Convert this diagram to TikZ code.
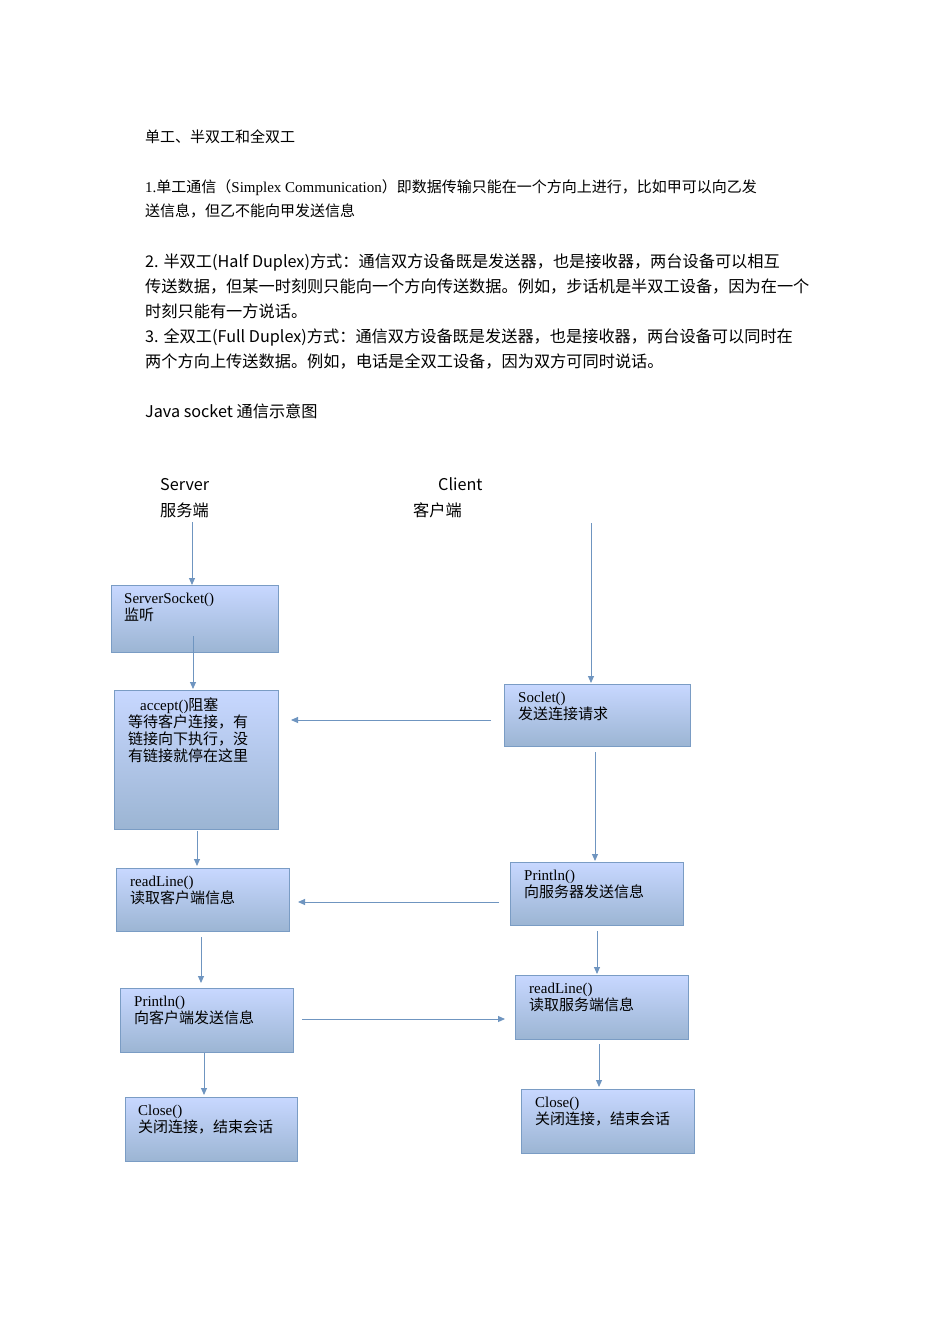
\documentclass[tikz,border=0pt]{standalone}
\usepackage{fontspec}
\setmainfont{Liberation Serif}
\newfontfamily\cjk{Noto Sans CJK SC}
\newfontfamily\dv{DejaVu Sans}
\usetikzlibrary{arrows.meta}
\definecolor{bd}{HTML}{7A9CC4}
\definecolor{ln}{HTML}{6F95C0}
\tikzset{
 box/.style={draw=bd,line width=1.4pt,top color=blue!8!cyan!8!white!85!blue,bottom color=bd!75,anchor=north west,inner sep=0pt},
 arr/.style={draw=ln,line width=1pt,-{Triangle[length=7pt,width=6pt]}},
 txt/.style={anchor=base west,inner sep=0pt,font=\fontsize{15}{18}\selectfont},
 ptxt/.style={anchor=base west,inner sep=0pt,font=\cjk\fontsize{16.2}{18}\selectfont},
 bt/.style={anchor=north west,inner sep=0pt,align=left,font=\fontsize{15}{17}\selectfont}
}
\newcommand{\bx}[5]{\node[box,minimum width=#3-#1,minimum height=#4-#2] (#5) at (#1,#2) {};}
\begin{document}
\begin{tikzpicture}[x=1pt,y=-1pt]
\useasboundingbox[fill=white] (0,0) rectangle (950,1344);
\node[txt] (t0) at (145,142) {\cjk 单工、半双工和全双工};
\node[txt] (t1) at (145,192) {1.{\cjk 单工通信（}Simplex Communication{\cjk ）即数据传输只能在一个方向上进行，比如甲可以向乙发}};
\node[txt] (t2) at (145,216) {\cjk 送信息，但乙不能向甲发送信息};
\node[ptxt] (p1) at (145,267) {2. 半双工(Half Duplex)方式：通信双方设备既是发送器，也是接收器，两台设备可以相互};
\node[ptxt] (p2) at (145,292) {传送数据，但某一时刻则只能向一个方向传送数据。例如，步话机是半双工设备，因为在一个};
\node[ptxt] (p3) at (145,317) {时刻只能有一方说话。};
\node[ptxt] (p4) at (145,342) {3. 全双工(Full Duplex)方式：通信双方设备既是发送器，也是接收器，两台设备可以同时在};
\node[ptxt] (p5) at (145,367) {两个方向上传送数据。例如，电话是全双工设备，因为双方可同时说话。};
\node[ptxt] (p6) at (145,417) {Java socket 通信示意图};
\node[ptxt] (srv) at (160,490) {Server};
\node[ptxt] (srvc) at (160,516) {服务端};
\node[ptxt] (cli) at (438,490) {Client};
\node[ptxt] (clic) at (413,516) {客户端};
% boxes
\bx{111}{585}{278}{652}{b1}
\bx{114}{690}{278}{829}{b2}
\bx{116}{868}{289}{931}{b3}
\bx{120}{988}{293}{1052}{b4}
\bx{125}{1097}{297}{1161}{b5}
\bx{504}{684}{690}{746}{c1}
\bx{510}{862}{683}{925}{c2}
\bx{515}{975}{688}{1039}{c3}
\bx{521}{1089}{694}{1153}{c4}
\node[bt] at (124,593) {ServerSocket()\\{\cjk 监听}};
\node[bt] at (128,698) {\hspace{12pt}accept(){\cjk 阻塞}\\{\cjk 等待客户连接，有}\\{\cjk 链接向下执行，没}\\{\cjk 有链接就停在这里}};
\node[bt] at (130,876) {readLine()\\{\cjk 读取客户端信息}};
\node[bt] at (134,996) {Println()\\{\cjk 向客户端发送信息}};
\node[bt] at (138,1105) {Close()\\{\cjk 关闭连接，结束会话}};
\node[bt] at (518,692) {Soclet()\\{\cjk 发送连接请求}};
\node[bt] at (524,870) {Println()\\{\cjk 向服务器发送信息}};
\node[bt] at (529,983) {readLine()\\{\cjk 读取服务端信息}};
\node[bt] at (535,1097) {Close()\\{\cjk 关闭连接，结束会话}};
% connectors
\coordinate (s0) at (192,522); \coordinate (s0e) at (192,585);
\draw[arr] (s0) -- (s0e);
\coordinate (a1) at (193,636); \coordinate (a1e) at (193,689);
\draw[arr] (a1) -- (a1e);
\coordinate (a2) at (197,831); \coordinate (a2e) at (197,866);
\draw[arr] (a2) -- (a2e);
\coordinate (a3) at (201,937); \coordinate (a3e) at (201,983);
\draw[arr] (a3) -- (a3e);
\coordinate (a4) at (204,1053); \coordinate (a4e) at (204,1095);
\draw[arr] (a4) -- (a4e);
\coordinate (c0) at (591,523); \coordinate (c0e) at (591,683);
\draw[arr] (c0) -- (c0e);
\coordinate (d1) at (595,752); \coordinate (d1e) at (595,861);
\draw[arr] (d1) -- (d1e);
\coordinate (d2) at (597,931); \coordinate (d2e) at (597,974);
\draw[arr] (d2) -- (d2e);
\coordinate (d3) at (599,1044); \coordinate (d3e) at (599,1087);
\draw[arr] (d3) -- (d3e);
\coordinate (h1) at (491,720); \coordinate (h1e) at (291,720);
\draw[arr] (h1) -- (h1e);
\coordinate (h2) at (499,902); \coordinate (h2e) at (298,902);
\draw[arr] (h2) -- (h2e);
\coordinate (h3) at (302,1019); \coordinate (h3e) at (505,1019);
\draw[arr] (h3) -- (h3e);
\end{tikzpicture}
\end{document}
